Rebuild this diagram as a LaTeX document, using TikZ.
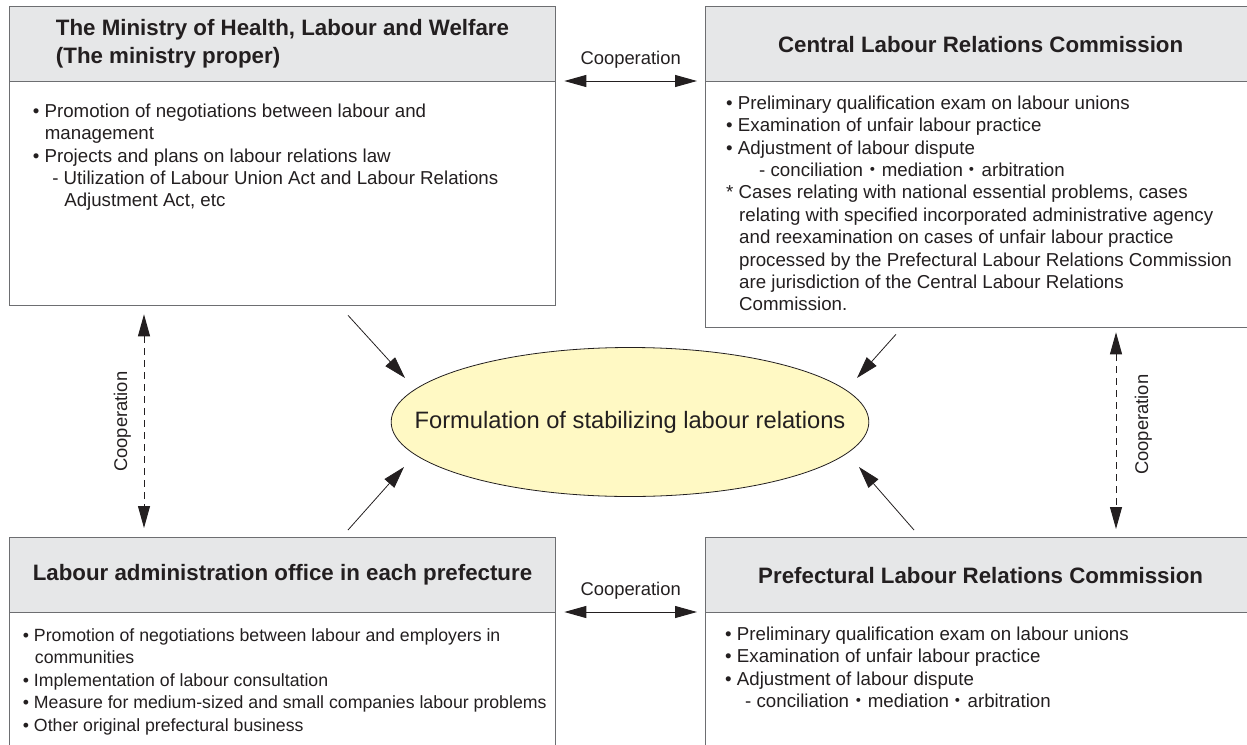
\documentclass[tikz,border=0pt]{standalone}
\usepackage{fontspec}
\setmainfont{Liberation Sans}
\newfontfamily\cjk{Noto Sans CJK JP}
\usetikzlibrary{arrows.meta,shapes.geometric}
\definecolor{headgray}{HTML}{E6E7E8}
\definecolor{linegray}{HTML}{6D6E71}
\definecolor{goalyellow}{HTML}{FFF9C4}
\definecolor{inkblack}{HTML}{231F20}
\newcommand{\nakaguro}{{\cjk ・}}

\begin{document}
\begin{tikzpicture}
        [x=1pt, y=-1pt, every node/.style={text=inkblack, inner sep=0},
         box/.style={draw=linegray, line width=1.3pt, rectangle, anchor=north west},
         head/.style={box, fill=headgray, minimum height=75pt, align=left, font=\bfseries\fontsize{22.3}{28}\selectfont},
         body/.style={box, fill=white},
         items/.style={anchor=north west, align=left, font=\fontsize{18.7}{22.4}\selectfont},
         coop/.style={{Triangle[length=22pt,width=12pt]}-{Triangle[length=22pt,width=12pt]}, line width=1pt, draw=inkblack},
         coopv/.style={coop, dash pattern=on 7pt off 5pt},
         flow/.style={-{Triangle[length=22pt,width=13pt]}, line width=0.8pt, draw=inkblack},
         tag/.style={font=\fontsize{18.4}{22}\selectfont}]

        \useasboundingbox (0,0) rectangle (1247,744);

        \node[body, minimum width=546.3pt, minimum height=224pt] (tlbody) at (8.7,81) {};
        \node[head, minimum width=546.3pt] (tlhead) at (8.7,6) {The Ministry of Health, Labour and Welfare\\(The ministry proper)};
        \node[body, minimum width=550pt, minimum height=246pt] (trbody) at (705,81) {};
        \node[head, minimum width=550pt] (trhead) at (705,6) {Central Labour Relations Commission};
        \node[body, minimum width=546.3pt, minimum height=150pt] (blbody) at (8.7,612) {};
        \node[head, minimum width=546.3pt] (blhead) at (8.7,537) {Labour administration office in each prefecture};
        \node[body, minimum width=550pt, minimum height=150pt] (brbody) at (705,612) {};
        \node[head, minimum width=550pt] (brhead) at (705,537) {Prefectural Labour Relations Commission};

        \node[items] (tllist) at ([shift={(24,22.5)}]tlbody.north west) {%
          • Promotion of negotiations between labour and\\
          \hspace*{12pt}management\\
          • Projects and plans on labour relations law\\
          \hspace*{19.4pt}- Utilization of Labour Union Act and Labour Relations\\
          \hspace*{31.4pt}Adjustment Act, etc};
        \node[items] (trlist) at ([shift={(21,14.5)}]trbody.north west) {%
          • Preliminary qualification exam on labour unions\\
          • Examination of unfair labour practice\\
          • Adjustment of labour dispute\\
          \hspace*{33pt}- conciliation\nakaguro mediation\nakaguro arbitration\\
          * Cases relating with national essential problems, cases\\
          \hspace*{13pt}relating with specified incorporated administrative agency\\
          \hspace*{13pt}and reexamination on cases of unfair labour practice\\
          \hspace*{13pt}processed by the Prefectural Labour Relations Commission\\
          \hspace*{13pt}are jurisdiction of the Central Labour Relations\\
          \hspace*{13pt}Commission.};
        \node[items, font=\fontsize{17.7}{22.5}\selectfont] (bllist) at ([shift={(14,16)}]blbody.north west) {%
          • Promotion of negotiations between labour and employers in\\
          \hspace*{12pt}communities\\
          • Implementation of labour consultation\\
          • Measure for medium-sized and small companies labour problems\\
          • Other original prefectural business};
        \node[items] (brlist) at ([shift={(20,14.5)}]brbody.north west) {%
          • Preliminary qualification exam on labour unions\\
          • Examination of unfair labour practice\\
          • Adjustment of labour dispute\\
          \hspace*{20pt}- conciliation\nakaguro mediation\nakaguro arbitration};

        \node[ellipse, draw=inkblack, line width=0.8pt, fill=goalyellow, inner xsep=-46.5pt, inner ysep=0pt, minimum width=477pt, minimum height=149pt, font=\fontsize{23.7}{28}\selectfont] (goal) at (630,422) {Formulation of stabilizing labour relations};

        \draw[coop, shorten <=8pt, shorten >=8pt] (tlbody.north east) -- (trbody.north west)
          node[tag, midway, anchor=base, yshift=17pt] (cooptop) {Cooperation};
        \draw[coop, shorten <=8pt, shorten >=8pt] (blbody.north east) -- (brbody.north west)
          node[tag, midway, anchor=base, yshift=17pt] (coopbot) {Cooperation};
        \draw[coopv, shorten <=8pt, shorten >=9pt] ([xshift=135.3pt]tlbody.south west) -- ([xshift=135.3pt]blhead.north west)
          node[tag, midway, rotate=90, anchor=base, yshift=17pt] (coopleft) {Cooperation};
        \draw[coopv, shorten <=4pt, shorten >=8pt] ([xshift=411pt]trbody.south west) -- ([xshift=411pt]brhead.north west)
          node[tag, midway, rotate=90, anchor=base, xshift=8pt, yshift=-32pt] (coopright) {Cooperation};

        \draw[flow] ([shift={(339.3,9)}]tlbody.south west) -- ([shift={(-225,-44)}]goal.center);
        \draw[flow] ([shift={(339.3,-7)}]blhead.north west) -- ([shift={(-226,45)}]goal.center);
        \draw[flow] ([shift={(191,6)}]trbody.south west) -- ([shift={(227,-44)}]goal.center);
        \draw[flow] ([shift={(209,-7)}]brhead.north west) -- ([shift={(229,45)}]goal.center);
      \end{tikzpicture}
\end{document}
